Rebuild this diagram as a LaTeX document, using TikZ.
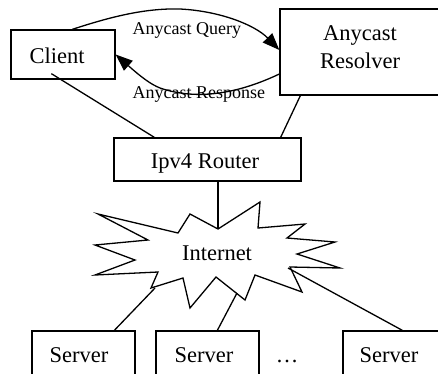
\documentclass[tikz,border=0pt]{standalone}
\usepackage{fontspec}
\setmainfont{Liberation Serif}
\usetikzlibrary{arrows.meta}
\begin{document}
\begin{tikzpicture}[x=1pt, y=-1pt, line width=1.3pt,
  box/.style={draw, rectangle, inner sep=0pt, minimum width=#1},
  boxlabel/.style={inner sep=0pt, font=\fontsize{22.5}{27.6}\selectfont},
  msglabel/.style={inner sep=0pt, font=\fontsize{18}{21}\selectfont},
  link/.style={draw},
  msg/.style={draw, -{Triangle[length=17pt, width=13pt]}}]
  \useasboundingbox (0,0) rectangle (438,373);
  \clip (0,0) rectangle (438,373);
  \fill[white] (0,0) rectangle (438,373);

  % boxes
  \node[box=104pt, minimum height=49pt] (client) at (63,54.5) {};
  \node[box=160pt, minimum height=86pt] (resolver) at (360,52) {};
  \node[box=187pt, minimum height=43pt] (router) at (207.5,159.5) {};
  \node[box=103pt, minimum height=54pt] (server1) at (83.5,358) {};
  \node[box=103pt, minimum height=54pt] (server2) at (207.5,358) {};
  \node[box=103pt, minimum height=54pt] (server3) at (394.5,358) {};

  % box texts
  \node[boxlabel, anchor=base] (clienttext) at (57,63.3) {Client};
  \node[boxlabel, align=center] (resolvertext) at (360,47) {Anycast\\Resolver};
  \node[boxlabel, anchor=base] (routertext) at (205,168.3) {Ipv4 Router};
  \node[boxlabel, anchor=base] (s1text) at (79,362.7) {Server};
  \node[boxlabel, anchor=base] (s2text) at (204,362.7) {Server};
  \node[boxlabel, anchor=base] (s3text) at (389,362.7) {Server};
  \node[boxlabel, anchor=base] (dots) at (287,362.7) {…};

  % the Internet cloud
  \draw (218,229) -- (260,202) -- (258,228) -- (305,224) -- (287,238)
    -- (335,242) -- (297,254) -- (340,268) -- (290,267) -- (302,292)
    -- (255,275) -- (245,300) -- (216,277) -- (190,308) -- (183,278)
    -- (151,288) -- (158,272) -- (95,275) -- (135,260) -- (95,245)
    -- (148,240) -- (98,214) -- (178,233) -- (190,214) -- cycle;
  \node[boxlabel, anchor=base] (internet) at (217,260) {Internet};
  \coordinate (nettop) at (218,229);
  \coordinate (netleft) at (155,288);
  \coordinate (netmid) at (237,293);
  \coordinate (netright) at (288,268);

  % wiring
  \path[link] ([xshift=41pt, yshift=6pt]client.south west) -- ([xshift=41pt]router.north west);
  \path[link] ([xshift=21pt]resolver.south west) -- ([xshift=-21pt]router.north east);
  \path[link] ([xshift=10.5pt]router.south) -- (nettop);
  \path[link] ([xshift=83pt]server1.north west) -- (netleft);
  \path[link] ([xshift=62pt]server2.north west) -- (netmid);
  \path[link] ([xshift=60pt]server3.north west) -- (netright);

  % query and response
  \path[msg] ([xshift=62pt]client.north west) .. controls (110,17) and (145,8) .. (180,9)
    .. controls (220,11) and (255,25) .. ([yshift=2pt]resolver.west);
  \path[msg] ([yshift=-22pt]resolver.west) .. controls (235,95) and (195,100) .. (160,88)
    .. controls (150,84) and (140,76) .. (client.east);
  \node[msglabel, anchor=base west] (querytext) at (132,34.7) {Anycast Query};
  \node[msglabel, anchor=base west] (responsetext) at (132,98.3) {Anycast Response};
\end{tikzpicture}
\end{document}
